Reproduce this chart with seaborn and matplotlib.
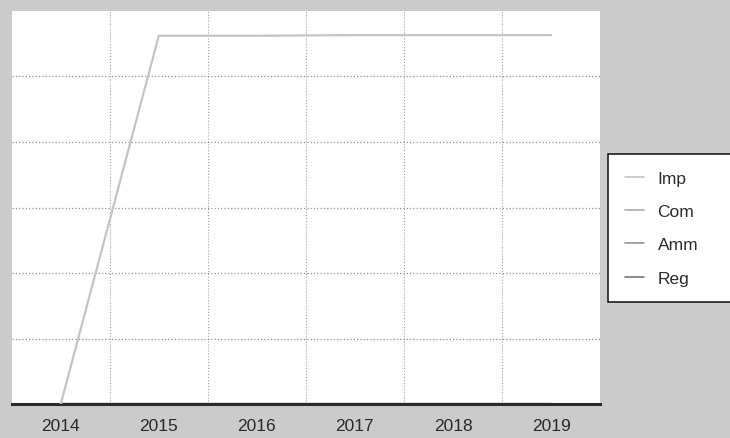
import numpy as np
import pandas as pd
import matplotlib
matplotlib.use("Agg")
import matplotlib.pyplot as plt
import seaborn as sns

# values (no y labels shown, scale 0-6)
years = ["2014", "2015", "2016", "2017", "2018", "2019"]
imp = [0.0, 5.62, 5.62, 5.63, 5.63, 5.63]
com = [0.0, 0.0, 0.0, 0.0, 0.0, 0.0]
amm = [0.0, 0.0, 0.0, 0.0, 0.0, 0.0]
reg = [0.0, 0.0, 0.0, 0.0, 0.0, 0.0]
series_names = ["Imp", "Com", "Amm", "Reg"]
series_colors = ["#c4c4c4", "#ababab", "#939393", "#777777"]

df = pd.DataFrame({
    "Year": years * 4,
    "Value": imp + com + amm + reg,
    "Series": np.repeat(series_names, len(years)),
})
df["x"] = df["Year"].map({y: i for i, y in enumerate(years)})

sns.set_style("white")
plt.rcParams["font.family"] = ["Liberation Sans", "DejaVu Sans"]

fig = plt.figure(figsize=(7.3, 4.39), dpi=100, facecolor="#cbcbcb")
ax = fig.add_axes([0.016, 0.077, 0.806, 0.896])
ax.set_facecolor("white")

# zero series first so the Imp line sits on top
for name in ["Reg", "Amm", "Com", "Imp"]:
    sub = df[df["Series"] == name]
    sns.lineplot(data=sub, x="x", y="Value", ax=ax, color=series_colors[series_names.index(name)],
                 linewidth=1.6, label=name, zorder=3 if name == "Imp" else 2, legend=False)

ax.set_xlim(-0.5, len(years) - 0.5)
ax.set_ylim(0, 6)
ax.set_xticks(range(len(years)))
ax.set_xticklabels(years, fontsize=12.5, color="#2a2a2a")
ax.set_xticks(np.arange(0.5, len(years) - 0.5, 1), minor=True)
ax.set_yticks(range(1, 6))
ax.set_yticklabels([])
ax.tick_params(axis="x", which="both", length=0, pad=10)
ax.tick_params(axis="y", length=0)
ax.grid(True, which="minor", axis="x", color="#a0a0a0", linestyle=":", linewidth=0.8)
ax.grid(True, which="major", axis="y", color="#8f8f8f", linestyle=":", linewidth=0.9)
ax.grid(False, which="major", axis="x")
ax.set_xlabel("")
ax.set_ylabel("")
for side in ["top", "left", "right"]:
    ax.spines[side].set_visible(False)
ax.spines["bottom"].set_color("#2b2b2b")
ax.spines["bottom"].set_linewidth(2.2)

handles = [plt.Line2D([], [], color=c, linewidth=1.2) for c in series_colors]
leg = fig.legend(handles, series_names,
                 loc="upper left", bbox_to_anchor=(0.833, 0.314, 0.2, 0.333), mode="expand",
                 fontsize=12.5, frameon=True, fancybox=False, shadow=False, framealpha=1,
                 facecolor="white", handlelength=1.1, handletextpad=0.8, labelspacing=1.05,
                 borderpad=0.95, borderaxespad=0)
leg.get_frame().set_edgecolor("#1e1e1e")
leg.get_frame().set_linewidth(1.2)
for t in leg.get_texts():
    t.set_color("#2a2a2a")

fig.savefig("out.png", dpi=100, facecolor=fig.get_facecolor())
